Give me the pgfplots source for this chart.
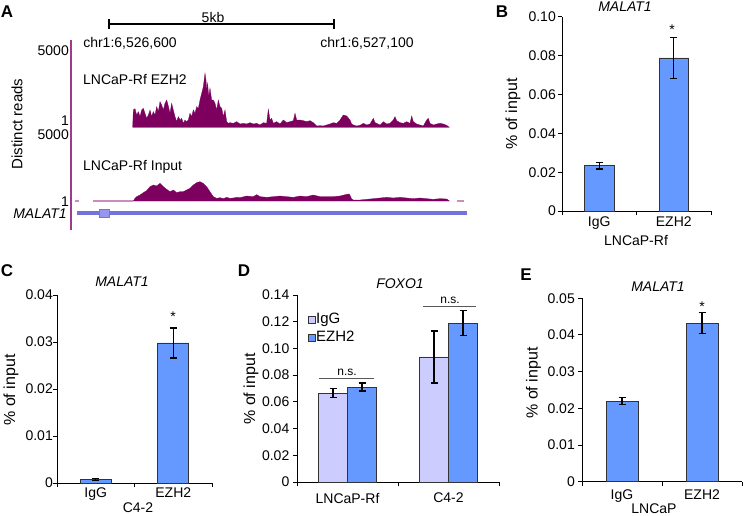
\documentclass[border=0pt]{standalone}
\usepackage{fontspec}
\setmainfont{Liberation Sans}
\usepackage{pgfplots}
\pgfplotsset{compat=1.18}
\definecolor{barblue}{RGB}{102,153,255}
\definecolor{barlav}{RGB}{204,204,255}
\definecolor{trk}{RGB}{125,0,95}
\definecolor{trkline}{RGB}{155,60,140}
\definecolor{trklight}{RGB}{205,140,190}
\definecolor{gene}{RGB}{115,115,220}
\definecolor{genebox}{RGB}{150,150,240}
\pgfplotsset{
  barax/.style={scale only axis, axis lines=left, axis line style={-, line width=1pt},
    tick align=outside, major tick length=4pt, tick style={black, line width=1pt},
    ymin=0, xmin=0.5, xmax=2.5, xtick={0.5,1.5,2.5}, xticklabels={}, clip=false, ybar,
    scaled y ticks=false,
    extra x tick style={major tick length=0pt},
    tick label style={font=\fontsize{14}{16}\selectfont},
    yticklabel style={inner sep=0pt},
    xticklabel style={inner sep=0pt}},
  bstyle/.style={fill=barblue, draw=black!80, line width=0.7pt,
    error bars/y dir=both, error bars/y explicit,
    error bars/error bar style={line width=1.2pt, black},
    error bars/error mark options={rotate=90, mark size=3.5pt, line width=1.2pt, black}},
  sqleg/.style={legend image code/.code={\draw[##1,line width=0.7pt] (0pt,-3.5pt) rectangle (7pt,3.5pt);}}
}
\begin{document}
\begin{tikzpicture}[x=1pt,y=1pt,font=\fontsize{14}{16}\selectfont]
\useasboundingbox (0,0) rectangle (743,515);
% ---------------- Panel A ----------------
\begin{axis}[scale only axis, at={(0pt,255pt)}, anchor=south west, width=480pt, height=260pt,
  xmin=0, xmax=1440, ymin=0, ymax=780, y dir=reverse, hide axis, clip=false]
\addplot[fill=trk, draw=trk, line width=0.3pt] coordinates {
(398,382)(400,330)(405,326)(410,345)(415,335)(420,350)(425,330)(430,325)(435,340)(440,355)
(445,345)(450,330)(455,350)(460,335)(465,345)(470,320)(475,335)(480,305)(485,315)(490,330)
(495,310)(500,300)(505,318)(510,340)(515,310)(520,330)(525,350)(530,365)(535,350)(540,360)
(545,355)(550,370)(555,360)(560,365)(565,360)(570,340)(575,350)(580,330)(585,340)(590,320)
(595,325)(600,300)(605,280)(610,260)(615,220)(618,240)(620,270)(623,250)(626,290)(630,265)
(635,300)(640,300)(645,310)(650,330)(655,300)(660,320)(665,325)(670,350)(675,330)(680,365)
(685,370)(690,368)(700,370)(710,365)(720,372)(730,370)(740,372)(750,368)(760,372)(770,370)
(780,375)(790,368)(800,370)(805,328)(810,360)(815,355)(820,370)(830,365)(840,372)(850,360)
(860,368)(870,365)(880,362)(885,340)(890,360)(900,360)(910,362)(920,365)(930,362)(940,368)
(950,378)(960,377)(970,378)(980,375)(990,372)(1000,368)(1010,370)(1020,360)(1030,345)(1040,348)
(1050,360)(1055,372)(1060,375)(1070,378)(1080,376)(1090,370)(1100,375)(1110,372)(1120,355)(1125,368)
(1130,370)(1140,375)(1150,365)(1160,372)(1170,370)(1180,360)(1185,350)(1190,362)(1200,368)(1210,370)
(1220,365)(1230,370)(1235,348)(1240,365)(1250,372)(1260,375)(1270,378)(1280,360)(1285,355)(1290,370)
(1300,375)(1310,372)(1320,370)(1330,372)(1340,376)(1348,382)} --cycle;
\addplot[fill=trk, draw=trk, line width=0.3pt] coordinates {
(400,603)(405,595)(410,590)(420,585)(430,578)(440,572)(450,560)(460,555)(470,558)(480,550)
(490,560)(500,568)(510,575)(520,570)(530,578)(540,575)(550,575)(560,570)(570,565)(580,555)
(590,548)(600,545)(610,550)(620,560)(630,575)(640,590)(650,595)(660,593)(670,596)(680,592)
(690,595)(700,594)(710,592)(720,593)(740,588)(760,590)(770,584)(780,590)(800,592)(820,590)
(840,588)(860,590)(880,592)(900,588)(920,590)(940,585)(960,590)(980,590)(1000,590)(1020,588)
(1040,583)(1048,582)(1055,597)(1060,600)(1080,600)(1100,598)(1120,596)(1140,594)(1160,592)(1180,594)
(1200,592)(1220,594)(1240,596)(1260,594)(1280,596)(1300,598)(1320,596)(1340,597)(1348,603)} --cycle;
\addplot[trklight, line width=1.5pt] coordinates {(280,603)(400,603)};
\addplot[trklight, line width=1.5pt] coordinates {(226,603)(236,603)};
\addplot[trklight, line width=1.5pt] coordinates {(1370,603)(1392,603)};
\addplot[trkline, line width=2pt] coordinates {(213,120)(213,690)};
\addplot[gene, line width=4pt] coordinates {(232,640)(1400,640)};
\addplot[fill=genebox, draw=gene, line width=0.8pt] coordinates {(298,628)(328,628)(328,652)(298,652)} --cycle;
\end{axis}
\node[font=\fontsize{17}{19}\selectfont\bfseries] at (7,503) {A};
\draw[line width=1.3pt] (109,491) -- (334,491);
\draw[line width=1.3pt] (109,486) -- (109,496);
\draw[line width=1.3pt] (334,486) -- (334,496);
\node at (213,497.5) {5kb};
\node at (130,472) {chr1:6,526,600};
\node at (367,472) {chr1:6,527,100};
\node[anchor=east, inner sep=0pt] at (69,464) {5000};
\node[anchor=east, inner sep=0pt] at (69,394) {1};
\node[anchor=east, inner sep=0pt] at (69,380) {5000};
\node[anchor=east, inner sep=0pt] at (69,313.5) {1};
\node[rotate=90, font=\fontsize{15}{17}\selectfont] at (17,391) {Distinct reads};
\node[anchor=west, inner sep=0pt] at (83,435) {LNCaP-Rf EZH2};
\node[anchor=west, inner sep=0pt] at (83,348) {LNCaP-Rf Input};
\node[font=\fontsize{14}{16}\selectfont\itshape] at (40,301) {MALAT1};
% ---------------- Panel B ----------------
\begin{axis}[barax, at={(562pt,304pt)}, anchor=south west, width=149pt, height=194pt,
  ymax=0.10, ytick={0,0.02,0.04,0.06,0.08,0.10}, yticklabels={0,0.02,0.04,0.06,0.08,0.10},
  bar width=29.5pt, extra x ticks={1,2}, extra x tick labels={IgG,EZH2},
  yticklabel style={xshift=-2pt}, xticklabel style={yshift=-6pt}]
\addplot[bstyle] coordinates {(1,0.0233) +- (0,0.0017) (2,0.0789) +- (0,0.0105)};
\end{axis}
\node[font=\fontsize{17}{19}\selectfont\bfseries] at (502,503) {B};
\node[font=\fontsize{14}{16}\selectfont\itshape] at (625,508) {MALAT1};
\node[rotate=90, font=\fontsize{16}{18}\selectfont] at (513,401) {\% of input};
\node[anchor=base] at (672,480) {*};
\node[anchor=base] at (636,270) {LNCaP-Rf};
% ---------------- Panel C ----------------
\begin{axis}[barax, at={(57pt,32pt)}, anchor=south west, width=155pt, height=188pt,
  ymax=0.04, ytick={0,0.01,0.02,0.03,0.04}, yticklabels={0,0.01,0.02,0.03,0.04},
  bar width=31pt, extra x ticks={1,2}, extra x tick labels={IgG,EZH2},
  yticklabel style={xshift=0pt}, xticklabel style={yshift=-5pt}]
\addplot[bstyle] coordinates {(1,0.0008) +- (0,0.0002) (2,0.0298) +- (0,0.0032)};
\end{axis}
\node[font=\fontsize{17}{19}\selectfont\bfseries] at (7,244) {C};
\node[font=\fontsize{14}{16}\selectfont\itshape] at (122,233) {MALAT1};
\node[rotate=90, font=\fontsize{16}{18}\selectfont] at (11,125) {\% of input};
\node[anchor=base] at (173,194) {*};
\node[anchor=base] at (138,3) {C4-2};
% ---------------- Panel D ----------------
\begin{axis}[barax, at={(297pt,33pt)}, anchor=south west, width=202pt, height=187pt,
  ymax=0.14, ytick={0,0.02,0.04,0.06,0.08,0.10,0.12,0.14},
  yticklabels={0,0.02,0.04,0.06,0.08,0.10,0.12,0.14},
  ybar=0pt, bar width=29pt, extra x ticks={1,2}, extra x tick labels={LNCaP-Rf,C4-2},
  yticklabel style={xshift=-3.5pt}, xticklabel style={yshift=-11pt},
  legend style={draw=none, fill=none, at={(rel axis cs:0.053,0.905)}, anchor=north west,
    font=\fontsize{15}{17}\selectfont, row sep=5pt, inner sep=0pt,
    nodes={inner sep=0.5pt, anchor=west}},
  legend cell align=left]
\addplot[bstyle, fill=barlav, sqleg] coordinates {(1,0.0665) +- (0,0.0035) (2,0.0936) +- (0,0.0195)};
\addplot[bstyle, fill=barblue, sqleg] coordinates {(1,0.0711) +- (0,0.003) (2,0.1188) +- (0,0.0093)};
\legend{IgG,EZH2}
\end{axis}
\node[font=\fontsize{17}{19}\selectfont\bfseries] at (244,244) {D};
\node[font=\fontsize{14}{16}\selectfont\itshape] at (400,231) {FOXO1};
\node[rotate=90, font=\fontsize{16}{18}\selectfont] at (251,126) {\% of input};
\draw[black!65, line width=0.8pt] (319,136.7) -- (374,136.7);
\draw[black!65, line width=0.8pt] (423,208.3) -- (476,208.3);
\node[anchor=base, font=\fontsize{12}{14}\selectfont] at (347,140) {n.s.};
\node[anchor=base, font=\fontsize{12}{14}\selectfont] at (450,211.5) {n.s.};
% ---------------- Panel E ----------------
\begin{axis}[barax, at={(582pt,33.3pt)}, anchor=south west, width=160pt, height=183.4pt,
  ymax=0.05, ytick={0,0.01,0.02,0.03,0.04,0.05}, yticklabels={0,0.01,0.02,0.03,0.04,0.05},
  bar width=32pt, extra x ticks={1,2}, extra x tick labels={IgG,EZH2},
  yticklabel style={xshift=-3pt}, xticklabel style={yshift=-8pt}]
\addplot[bstyle] coordinates {(1,0.022) +- (0,0.001) (2,0.0432) +- (0,0.0029)};
\end{axis}
\node[font=\fontsize{17}{19}\selectfont\bfseries] at (526,240) {E};
\node[font=\fontsize{14}{16}\selectfont\itshape] at (658,228) {MALAT1};
\node[rotate=90, font=\fontsize{16}{18}\selectfont] at (533.5,132) {\% of input};
\node[anchor=base] at (702,204) {*};
\node[anchor=base] at (654,2) {LNCaP};
\end{tikzpicture}
\end{document}
